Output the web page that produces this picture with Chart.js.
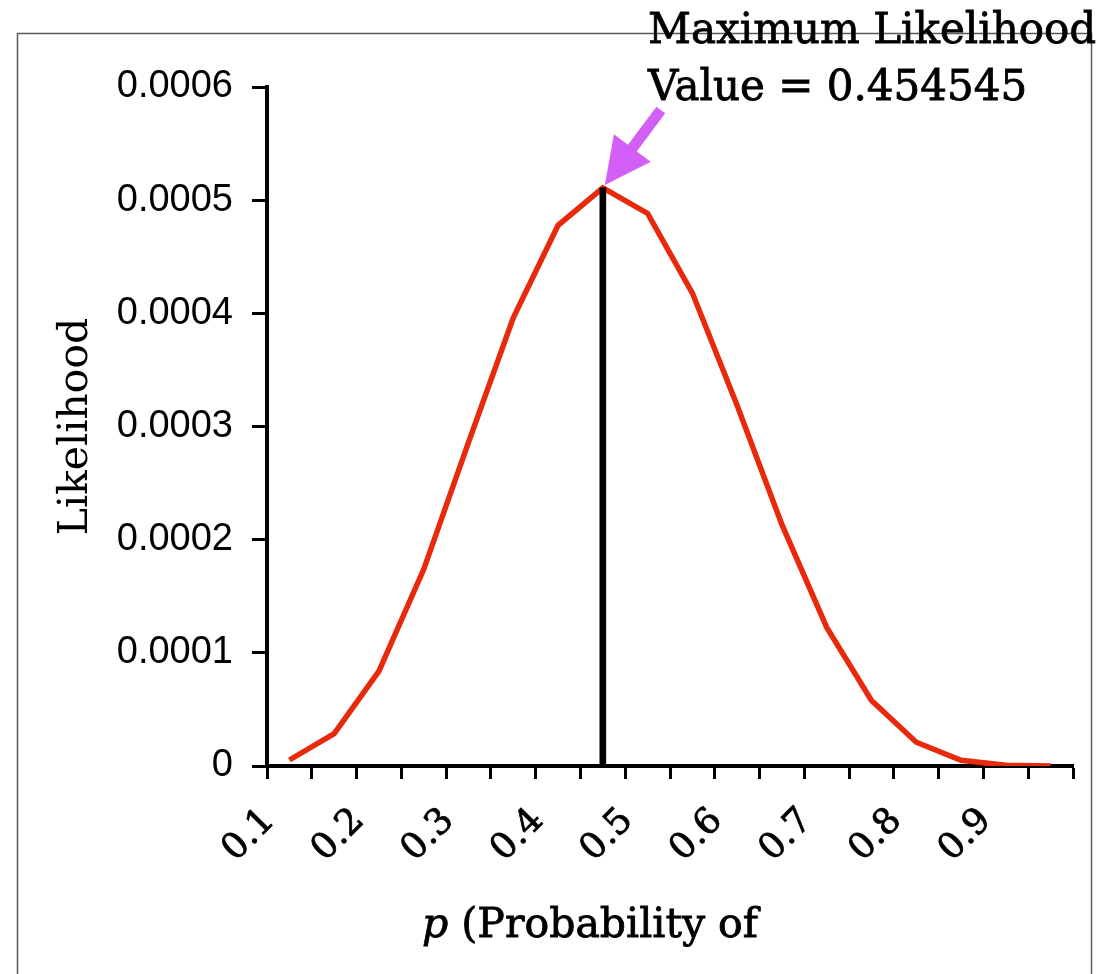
<!DOCTYPE html>
<html>
<head>
<meta charset="utf-8">
<script src="https://cdn.jsdelivr.net/npm/chart.js@4.4.1/dist/chart.umd.min.js"></script>
<style>
  html, body { margin: 0; padding: 0; background: #ffffff; }
  #wrap { width: 1119px; height: 974px; position: relative; }
</style>
</head>
<body>
<div id="wrap"><canvas id="chart" width="1119" height="974"></canvas></div>
<script>
// p values on the category axis
const pCategories = ['0.1', '0.15', '0.2', '0.25', '0.3', '0.35', '0.4', '0.45', '0.5',
                     '0.55', '0.6', '0.65', '0.7', '0.75', '0.8', '0.85', '0.9', '0.95'];
// likelihood of each p
const likelihood = [0.0000053, 0.0000286, 0.0000839, 0.0001738, 0.0002859, 0.0003961,
                    0.0004778, 0.0005108, 0.0004883, 0.0004179, 0.0003185, 0.0002133,
                    0.0001225, 0.0000579, 0.0000210, 0.0000051, 0.0000006, 0.0000000];
// marker at the maximum
const maxMarker = [null, null, null, null, null, null, null, 0.0005108, null,
                   null, null, null, null, null, null, null, null, null];
// labels shown under every other category
const xTickLabels = ['0.1', '0.2', '0.3', '0.4', '0.5', '0.6', '0.7', '0.8', '0.9'];
const yTicks = [0, 0.0001, 0.0002, 0.0003, 0.0004, 0.0005, 0.0006];
const yTickLabels = ['0', '0.0001', '0.0002', '0.0003', '0.0004', '0.0005', '0.0006'];
const noteLines = ['Maximum Likelihood', 'Value = 0.454545'];
const yTitle = 'Likelihood';
const xTitleVar = 'p';
const xTitleRest = ' (Probability of';

const SERIF = '"DejaVu Serif", serif';
const SANS = '"Liberation Sans", Arial, sans-serif';

// fill plus a hairline stroke for a slightly heavier slab look
function heavyText(ctx, text, x, y) {
  ctx.fillText(text, x, y);
  ctx.strokeText(text, x, y);
}

const decorations = {
  id: 'decorations',
  beforeDraw(chart) {
    const ctx = chart.ctx;
    ctx.save();
    ctx.strokeStyle = '#5a5a5a';
    ctx.lineWidth = 1.5;
    ctx.strokeRect(17.5, 33.5, 1074, 1000);
    ctx.restore();
  },
  afterDraw(chart) {
    const ctx = chart.ctx;
    const meta = chart.getDatasetMeta(1);
    const bar = meta.data[7];
    ctx.save();
    // arrow pointing at the top of the maximum marker
    const tipX = bar.x + 2, tipY = bar.y - 3;
    const tailX = tipX + 56, tailY = tipY - 75;
    const dx = tipX - tailX, dy = tipY - tailY;
    const len = Math.hypot(dx, dy);
    const ux = dx / len, uy = dy / len;
    const px = -uy, py = ux;
    const headLen = 46, headHalf = 23, shaftHalf = 5.5;
    const bx = tipX - ux * headLen, by = tipY - uy * headLen;
    ctx.fillStyle = '#d35ff6';
    ctx.beginPath();
    ctx.moveTo(tailX + px * shaftHalf, tailY + py * shaftHalf);
    ctx.lineTo(bx + px * shaftHalf, by + py * shaftHalf);
    ctx.lineTo(bx + px * headHalf, by + py * headHalf);
    ctx.lineTo(tipX, tipY);
    ctx.lineTo(bx - px * headHalf, by - py * headHalf);
    ctx.lineTo(bx - px * shaftHalf, by - py * shaftHalf);
    ctx.lineTo(tailX - px * shaftHalf, tailY - py * shaftHalf);
    ctx.closePath();
    ctx.fill();

    // note text
    ctx.fillStyle = '#000';
    ctx.strokeStyle = '#000';
    ctx.lineWidth = 0.8;
    ctx.font = '42px ' + SERIF;
    ctx.textAlign = 'left';
    ctx.textBaseline = 'alphabetic';
    heavyText(ctx, noteLines[0], 648, 43);
    heavyText(ctx, noteLines[1], 648, 100);

    // x axis title with italic variable
    ctx.font = 'italic 41px ' + SERIF;
    const w1 = ctx.measureText(xTitleVar).width;
    ctx.font = '41px ' + SERIF;
    const w2 = ctx.measureText(xTitleRest).width;
    const cx = 590;
    const x0 = cx - (w1 + w2) / 2;
    ctx.font = 'italic 41px ' + SERIF;
    heavyText(ctx, xTitleVar, x0, 937);
    ctx.font = '41px ' + SERIF;
    heavyText(ctx, xTitleRest, x0 + w1, 937);
    ctx.restore();
  }
};

new Chart(document.getElementById('chart'), {
  data: {
    labels: pCategories,
    datasets: [
      {
        type: 'line',
        data: likelihood,
        borderColor: '#e8290c',
        borderWidth: 5.5,
        pointRadius: 0,
        tension: 0,
        fill: false,
        order: 1
      },
      {
        type: 'bar',
        data: maxMarker,
        backgroundColor: '#000',
        barThickness: 6,
        order: 0
      }
    ]
  },
  plugins: [decorations],
  options: {
    responsive: false,
    animation: false,
    devicePixelRatio: 1,
    layout: { padding: { left: 0, top: 87, right: 46, bottom: 0 } },
    plugins: { legend: { display: false }, tooltip: { enabled: false } },
    scales: {
      x: {
        type: 'category',
        offset: true,
        grid: { offset: true, drawOnChartArea: false, drawTicks: true, tickLength: 13, tickWidth: 3, tickColor: '#000' },
        border: { display: true, color: '#000', width: 4 },
        ticks: {
          autoSkip: false,
          maxRotation: 45,
          minRotation: 45,
          color: '#000',
          textStrokeColor: '#000',
          textStrokeWidth: 0.8,
          font: { family: SERIF, size: 36 },
          padding: 21,
          labelOffset: -20,
          callback: (v, i) => (i % 2 === 0 ? xTickLabels[i / 2] : '')
        },
        afterFit: s => { s.height = 208; }
      },
      y: {
        min: 0,
        max: 0.0006,
        afterBuildTicks: s => { s.ticks = yTicks.map(v => ({ value: v })); },
        grid: { drawOnChartArea: false, drawTicks: true, tickLength: 15, tickWidth: 3, tickColor: '#000' },
        border: { display: true, color: '#000', width: 4 },
        ticks: {
          color: '#000',
          font: { family: SANS, size: 38 },
          padding: 19,
          callback: (v, i) => yTickLabels[i]
        },
        title: {
          display: true,
          text: yTitle,
          color: '#000',
          font: { family: SERIF, size: 41 },
          padding: { top: 52, bottom: 0 }
        },
        afterFit: s => { s.width = 267; }
      }
    }
  }
});
</script>
</body>
</html>
